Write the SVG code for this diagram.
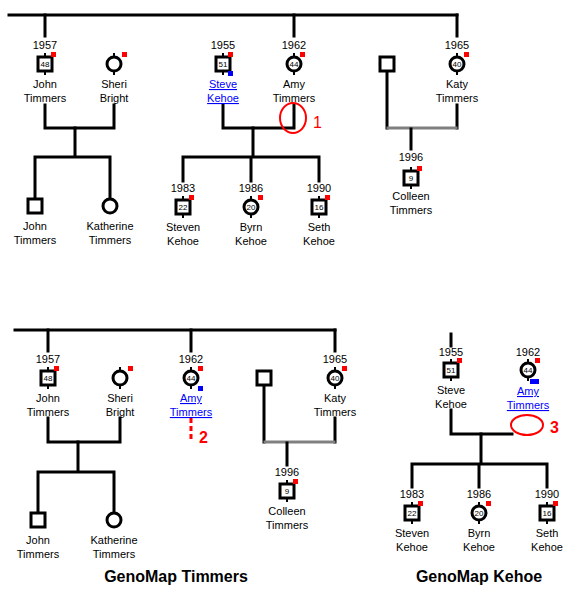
<svg xmlns="http://www.w3.org/2000/svg" width="576" height="597" viewBox="0 0 576 597">
<style>
text{font-family:"Liberation Sans",Arial,sans-serif;font-size:11px;fill:#000;text-anchor:middle}
.num{font-size:8px}
.link{fill:#0000ff;text-decoration:underline}
.title{font-size:16px;font-weight:bold}
.mark{fill:#ff0000;font-size:16px;text-anchor:start}
.bold{font-weight:bold}
.sym{fill:#fff;stroke:#000;stroke-width:3}
.stub{stroke:#000;stroke-width:2}
.red{fill:#ff0000}
.blue{fill:#0000ff}
.con path{fill:none;stroke:#000;stroke-width:3;stroke-linecap:square}
.con path.gray{stroke:#808080}
.con path.dash{stroke:#ff0000;stroke-dasharray:5 3;stroke-linecap:butt}
.hl{fill:none;stroke:#ff0000;stroke-width:2}
</style>
<defs>
<g id="sq"><path class="stub" d="M0,-11V-7M0,7V11"/><rect class="sym" x="-7" y="-7" width="14" height="14"/></g>
<g id="ci"><path class="stub" d="M0,-11V-7M0,7V11"/><circle class="sym" r="7"/></g>
<rect id="rd" class="red" width="5" height="5"/>
</defs>

<g class="con" id="connectors">
<!-- top section -->
<path d="M9,15H457"/>
<path d="M45,15V36M294,15V36M457,15V36"/>
<path d="M45,105V128H114V105"/>
<path d="M75,128V157M35,157H110M35,157V197M110,157V197"/>
<path d="M223,105V128H294V105"/>
<path d="M253,128V157M183,157H319M183,157V181M251,157V181M319,157V181"/>
<path d="M387,73V128M457,105V128"/>
<path class="gray" d="M388,128H456"/>
<path d="M411,129V149"/>
<!-- bottom left -->
<path d="M15,330H335"/>
<path d="M48,330V351M191,330V351M335,330V351"/>
<path d="M48,418V442H120V418"/>
<path d="M78,442V472M38,472H114M38,472V511M114,472V511"/>
<path d="M264,387V442M335,418V442"/>
<path class="gray" d="M265,442H334"/>
<path d="M287,443V465"/>
<path class="dash" d="M191,418V442"/>
<!-- bottom right -->
<path d="M451,334V346"/>
<path d="M451,410V434H512"/>
<path d="M481,434V464M412,464H547M412,464V487M479,464V487M547,464V487"/>
</g>

<!-- ===== top section ===== -->
<g id="john1957">
<text x="45" y="49">1957</text>
<use href="#sq" x="45" y="64"/><text class="num" x="45" y="67">48</text>
<use href="#rd" x="51" y="52"/>
<text x="45" y="88">John</text><text x="45" y="102">Timmers</text>
</g>
<g id="sheri">
<use href="#ci" x="114" y="64"/>
<use href="#rd" x="122" y="52"/>
<text x="114" y="88">Sheri</text><text x="114" y="102">Bright</text>
</g>
<g id="steve1955">
<text x="223" y="49">1955</text>
<use href="#sq" x="223" y="64"/><text class="num" x="223" y="67">51</text>
<use href="#rd" x="228" y="52"/>
<rect class="blue" x="228" y="71" width="5" height="5"/>
<text class="link" x="223" y="88">Steve</text><text class="link" x="223" y="102">Kehoe</text>
</g>
<g id="amy1962">
<text x="294" y="49">1962</text>
<use href="#ci" x="294" y="64"/><text class="num" x="294" y="67">44</text>
<use href="#rd" x="300" y="52"/>
<text x="294" y="88">Amy</text><text x="294" y="102">Timmers</text>
</g>
<g id="mark1">
<ellipse class="hl" cx="293" cy="118" rx="13" ry="15"/>
<text class="mark" x="313" y="128">1</text>
</g>
<g id="unknown1">
<rect class="sym" x="380" y="57" width="14" height="14"/>
</g>
<g id="katy1965">
<text x="457" y="49">1965</text>
<use href="#ci" x="457" y="64"/><text class="num" x="457" y="67">40</text>
<use href="#rd" x="464" y="52"/>
<text x="457" y="88">Katy</text><text x="457" y="102">Timmers</text>
</g>
<g id="john-child">
<rect class="sym" x="28" y="199" width="14" height="14"/>
<text x="35" y="230">John</text><text x="35" y="244">Timmers</text>
</g>
<g id="katherine">
<circle class="sym" cx="110" cy="206" r="7"/>
<text x="110" y="230">Katherine</text><text x="110" y="244">Timmers</text>
</g>
<g id="steven1983">
<text x="183" y="192">1983</text>
<use href="#sq" x="183" y="207"/><text class="num" x="183" y="210">22</text>
<use href="#rd" x="189" y="195"/>
<text x="183" y="231">Steven</text><text x="183" y="245">Kehoe</text>
</g>
<g id="byrn1986">
<text x="251" y="192">1986</text>
<use href="#ci" x="251" y="207"/><text class="num" x="251" y="210">20</text>
<use href="#rd" x="258" y="195"/>
<text x="251" y="231">Byrn</text><text x="251" y="245">Kehoe</text>
</g>
<g id="seth1990">
<text x="319" y="192">1990</text>
<use href="#sq" x="319" y="207"/><text class="num" x="319" y="210">16</text>
<use href="#rd" x="325" y="195"/>
<text x="319" y="231">Seth</text><text x="319" y="245">Kehoe</text>
</g>
<g id="colleen1996">
<text x="411" y="161">1996</text>
<use href="#sq" x="411" y="178"/><text class="num" x="411" y="181">9</text>
<use href="#rd" x="417" y="166"/>
<text x="411" y="200">Colleen</text><text x="411" y="214">Timmers</text>
</g>

<!-- ===== bottom left: GenoMap Timmers ===== -->
<g id="b-john1957">
<text x="48" y="363">1957</text>
<use href="#sq" x="48" y="378"/><text class="num" x="48" y="381">48</text>
<use href="#rd" x="54" y="366"/>
<text x="48" y="402">John</text><text x="48" y="416">Timmers</text>
</g>
<g id="b-sheri">
<use href="#ci" x="120" y="378"/>
<use href="#rd" x="128" y="366"/>
<text x="120" y="402">Sheri</text><text x="120" y="416">Bright</text>
</g>
<g id="b-amy1962">
<text x="191" y="363">1962</text>
<use href="#ci" x="191" y="378"/><text class="num" x="191" y="381">44</text>
<use href="#rd" x="198" y="366"/>
<rect class="blue" x="198" y="386" width="5" height="5"/>
<text class="link" x="191" y="402">Amy</text><text class="link" x="191" y="416">Timmers</text>
</g>
<g id="mark2">
<text class="mark bold" x="199" y="443">2</text>
</g>
<g id="b-unknown">
<rect class="sym" x="257" y="371" width="14" height="14"/>
</g>
<g id="b-katy1965">
<text x="335" y="363">1965</text>
<use href="#ci" x="335" y="378"/><text class="num" x="335" y="381">40</text>
<use href="#rd" x="342" y="366"/>
<text x="335" y="402">Katy</text><text x="335" y="416">Timmers</text>
</g>
<g id="b-john-child">
<rect class="sym" x="31" y="513" width="14" height="14"/>
<text x="38" y="544">John</text><text x="38" y="558">Timmers</text>
</g>
<g id="b-katherine">
<circle class="sym" cx="114" cy="520" r="7"/>
<text x="114" y="544">Katherine</text><text x="114" y="558">Timmers</text>
</g>
<g id="b-colleen1996">
<text x="287" y="476">1996</text>
<use href="#sq" x="287" y="491"/><text class="num" x="287" y="494">9</text>
<use href="#rd" x="293" y="479"/>
<text x="287" y="515">Colleen</text><text x="287" y="529">Timmers</text>
</g>
<text id="title-timmers" class="title" x="176" y="582">GenoMap Timmers</text>

<!-- ===== bottom right: GenoMap Kehoe ===== -->
<g id="k-steve1955">
<text x="451" y="356">1955</text>
<use href="#sq" x="451" y="370"/><text class="num" x="451" y="373">51</text>
<use href="#rd" x="457" y="358"/>
<text x="451" y="394">Steve</text><text x="451" y="408">Kehoe</text>
</g>
<g id="k-amy1962">
<text x="528" y="356">1962</text>
<use href="#ci" x="528" y="370"/><text class="num" x="528" y="373">44</text>
<use href="#rd" x="535" y="358"/>
<rect class="blue" x="530" y="379" width="9" height="5"/>
<text class="link" x="528" y="395">Amy</text><text class="link" x="528" y="409">Timmers</text>
</g>
<g id="mark3">
<ellipse class="hl" cx="527" cy="425" rx="16" ry="10"/>
<text class="mark bold" x="550" y="433">3</text>
</g>
<g id="k-steven1983">
<text x="412" y="498">1983</text>
<use href="#sq" x="412" y="513"/><text class="num" x="412" y="516">22</text>
<use href="#rd" x="418" y="501"/>
<text x="412" y="537">Steven</text><text x="412" y="551">Kehoe</text>
</g>
<g id="k-byrn1986">
<text x="479" y="498">1986</text>
<use href="#ci" x="479" y="513"/><text class="num" x="479" y="516">20</text>
<use href="#rd" x="486" y="501"/>
<text x="479" y="537">Byrn</text><text x="479" y="551">Kehoe</text>
</g>
<g id="k-seth1990">
<text x="547" y="498">1990</text>
<use href="#sq" x="547" y="513"/><text class="num" x="547" y="516">16</text>
<use href="#rd" x="553" y="501"/>
<text x="547" y="537">Seth</text><text x="547" y="551">Kehoe</text>
</g>
<text id="title-kehoe" class="title" x="479" y="582">GenoMap Kehoe</text>
</svg>
